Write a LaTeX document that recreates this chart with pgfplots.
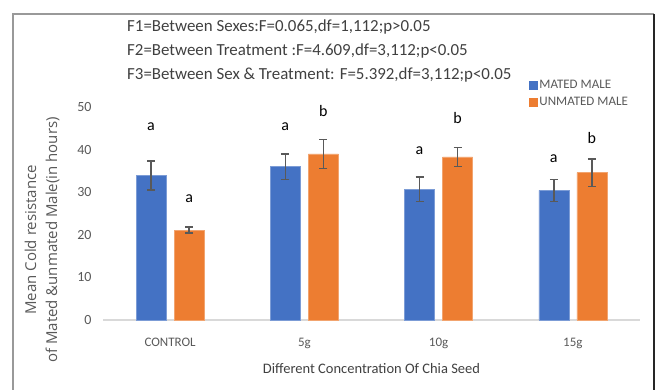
\documentclass[border=0pt]{standalone}
\usepackage{pgfplots}
\usepackage{pgfplotstable}
\pgfplotsset{compat=1.18}
\usepackage{fontspec}
\setmainfont{Carlito}
\newfontfamily\labfont{Open Sans}
\definecolor{cblue}{HTML}{4472C4}
\definecolor{corange}{HTML}{ED7D31}
\definecolor{tgray}{HTML}{595959}
\definecolor{dgray}{HTML}{404040}
\pgfplotstableread{
x y e
0 33.9 3.4
1 36.0 3.0
2 30.7 2.85
3 30.4 2.6
}\mated
\pgfplotstableread{
x y e
0 21.1 0.7
1 39.0 3.4
2 38.3 2.25
3 34.6 3.2
}\unmated
\begin{document}
\begin{tikzpicture}
\path[use as bounding box] (0,0) rectangle (658bp,390bp);
\draw[color=gray!80, line width=1.5bp] (13bp,0) -- (13bp,376bp) -- (654bp,376bp);
\draw[color=black!85, line width=1.5bp] (654bp,376bp) -- (654bp,0);
\node[anchor=west, text=dgray, font=\fontsize{16.9bp}{20bp}\selectfont, inner sep=0] at (127bp,363bp) {F1=Between Sexes:F=0.065,df=1,112;p>0.05};
\node[anchor=west, text=dgray, font=\fontsize{16.9bp}{20bp}\selectfont, inner sep=0] at (127bp,339bp) {F2=Between Treatment :F=4.609,df=3,112;p<0.05};
\node[anchor=west, text=dgray, font=\fontsize{16.9bp}{20bp}\selectfont, inner sep=0] at (127bp,315bp) {F3=Between Sex \& Treatment: F=5.392,df=3,112;p<0.05};
\node[rotate=90, text=tgray, font=\labfont\fontsize{15bp}{21bp}\selectfont, align=center, inner sep=0] at (42bp,150bp) {Mean Cold resistance\\of Mated \&unmated Male(in hours)};
\begin{axis}[
  at={(103bp,70bp)}, anchor=south west,
  scale only axis, width=537bp, height=213bp,
  xmin=-0.5, xmax=3.5, ymin=0, ymax=50,
  axis x line*=bottom,
  axis y line*=left,
  y axis line style={draw=none},
  x axis line style={draw=black!15, line width=1.5bp},
  xtick={0,1,2,3},
  xticklabels={CONTROL,5g,10g,15g},
  ytick={0,10,20,30,40,50},
  /pgf/number format/assume math mode=true,
  major tick length=0pt,
  tick style={draw=none},
  tick label style={text=tgray, font=\fontsize{14bp}{15bp}\selectfont},
  yticklabel style={xshift=-8bp},
  xticklabel style={yshift=-15bp, font=\fontsize{13bp}{15bp}\selectfont},
  xlabel={Different Concentration Of Chia Seed},
  xlabel style={text=dgray, font=\fontsize{14.5bp}{16bp}\selectfont, yshift=-7bp},
  clip=false,
  legend style={at={(0.793,1.137)}, anchor=north west, draw=none, fill=none,
    font=\fontsize{13bp}{15bp}\selectfont, text=tgray, row sep=3bp, inner sep=0pt,
    legend cell align=left},
]
\addplot[ybar, bar width=30bp, bar shift=0bp, fill=cblue, draw=cblue!70!white,
  legend image code/.code={\fill[cblue] (0bp,-4bp) rectangle (8bp,4bp);},
  error bars/.cd, y dir=both, y explicit,
  error bar style={line width=1.3bp, color=tgray},
  error mark options={rotate=90, mark size=4bp, line width=1.3bp, color=tgray}]
  table[x expr=\thisrow{x}-0.1415, y=y, y error=e] {\mated};
\addlegendentry{MATED MALE}
\addplot[ybar, bar width=30bp, bar shift=0bp, fill=corange, draw=corange!70!white,
  legend image code/.code={\fill[corange] (0bp,-4bp) rectangle (8bp,4bp);},
  error bars/.cd, y dir=both, y explicit,
  error bar style={line width=1.3bp, color=tgray},
  error mark options={rotate=90, mark size=4bp, line width=1.3bp, color=tgray}]
  table[x expr=\thisrow{x}+0.1415, y=y, y error=e] {\unmated};
\addlegendentry{UNMATED MALE}
\foreach \xx/\yy/\tt in {-0.142/45.4/a, 0.142/28.4/a, 0.858/45.4/a, 1.142/49.1/b, 1.858/39.7/a, 2.142/47.4/b, 2.858/37.8/a, 3.142/42.8/b}{
  \edef\temp{\noexpand\node[font=\noexpand\fontsize{16bp}{18bp}\noexpand\selectfont, text=black] at (axis cs:\xx,\yy) {\tt};}
  \temp
}
\end{axis}
\end{tikzpicture}
\end{document}
